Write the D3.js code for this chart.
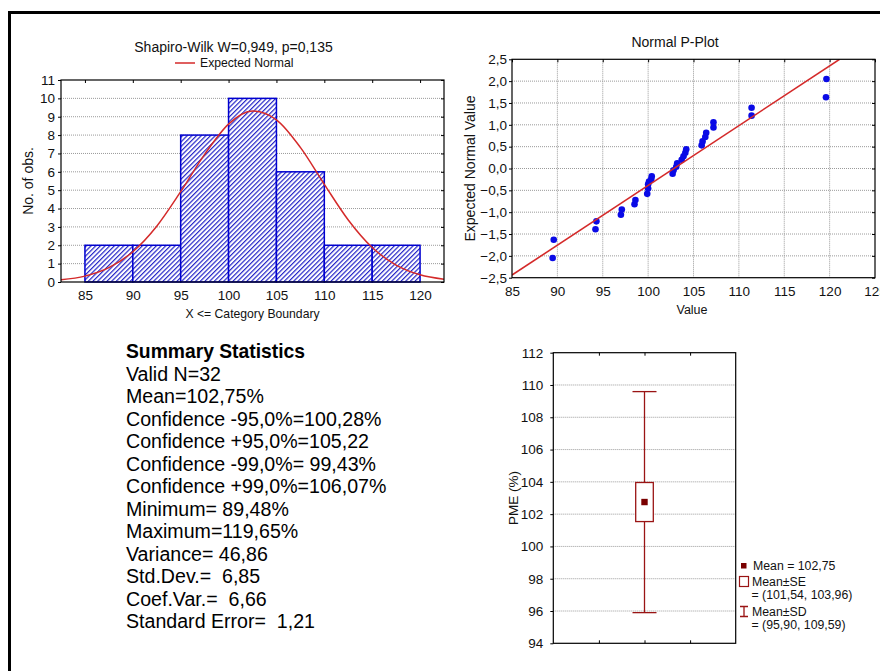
<!DOCTYPE html>
<html><head><meta charset="utf-8">
<script src="https://cdn.jsdelivr.net/npm/d3@7"></script>
<style>
body{margin:0;background:#fff;}
svg{display:block;font-family:"Liberation Sans",Arial,sans-serif;}
.grid line{stroke:#9a9a9a;stroke-width:1;stroke-dasharray:1,1;}
.ax path,.ax line{stroke:#000;}
.ax text{font-size:13.5px;fill:#111;}
</style></head><body>
<script>
// ---------- data ----------
const binStarts = [85, 90, 95, 100, 105, 110, 115];
const binWidth = 5;
const binCounts = [2, 2, 8, 10, 6, 2, 2];
// expected-normal curve
const curveX = [82.5, 85, 87.5, 90, 92.5, 95, 97.5, 100, 102.5, 105, 107.5, 110, 112.5, 115, 117.5, 120, 122.5];
const curveY = [0.12, 0.32, 0.78, 1.65, 3.04, 4.92, 6.95, 8.6, 9.31, 8.83, 7.33, 5.32, 3.38, 1.88, 0.92, 0.39, 0.15];
const histYTicks = [0,1,2,3,4,5,6,7,8,9,10,11];
const histXTicks = [85,90,95,100,105,110,115,120];

// normal P-plot
const obsValues = [89.48, 89.6, 94.2, 94.3, 97.0, 97.1, 98.5, 98.6, 99.9, 100.0, 100.0, 100.1, 100.35, 100.4,
  102.7, 102.8, 103.1, 103.2, 103.7, 103.9, 104.1, 104.2, 105.9, 106.0, 106.3, 106.4, 107.2, 107.2, 111.4, 111.4, 119.6, 119.65];
const expNormal = [-2.05, -1.63, -1.39, -1.21, -1.06, -0.94, -0.82, -0.72, -0.58, -0.46, -0.36, -0.3, -0.24, -0.18,
  -0.12, -0.04, 0.04, 0.12, 0.2, 0.28, 0.36, 0.44, 0.53, 0.62, 0.72, 0.82, 0.94, 1.06, 1.21, 1.39, 1.63, 2.05];
const fitLineX = [85, 121.1];
const fitLineZ = [-2.44, 2.5];
const ppXTicks = [85,90,95,100,105,110,115,120,125];
const ppYTicks = [-2.5,-2,-1.5,-1,-0.5,0,0.5,1,1.5,2,2.5];

// box plot
const boxMean = 102.75;
const boxSE = [101.54, 103.96];
const boxSD = [95.90, 109.59];
const boxYTicks = [94,96,98,100,102,104,106,108,110,112];

// summary
const summaryTitle = "Summary Statistics";
const summaryLines = ["Valid N=32","Mean=102,75%","Confidence -95,0%=100,28%","Confidence +95,0%=105,22",
  "Confidence -99,0%= 99,43%","Confidence +99,0%=106,07%","Minimum= 89,48%","Maximum=119,65%",
  "Variance= 46,86","Std.Dev.=  6,85","Coef.Var.=  6,66","Standard Error=  1,21"];
const legendLines = ["Mean = 102,75","Mean±SE","= (101,54, 103,96)","Mean±SD","= (95,90, 109,59)"];

const fmt1 = d => d3.format(".1f")(d).replace(".", ",");

const W = 880, H = 671;
const svg = d3.select("body").append("svg").attr("width", W).attr("height", H);
svg.append("rect").attr("width", W).attr("height", H).attr("fill", "#fff");
// outer frame (extends beyond right and bottom)
svg.append("path").attr("d", "M9.5,671V12.5H880").attr("fill","none").attr("stroke","#000").attr("stroke-width",3);

const defs = svg.append("defs");
const pat = defs.append("pattern").attr("id","hatch").attr("patternUnits","userSpaceOnUse")
  .attr("width",3.3).attr("height",3.3).attr("patternTransform","rotate(45)");
pat.append("rect").attr("width",3.3).attr("height",3.3).attr("fill","#fff");
pat.append("line").attr("x1",0.6).attr("y1",0).attr("x2",0.6).attr("y2",3.3).attr("stroke","#2626c8").attr("stroke-width",1.2);

// ================= Histogram =================
{
  const L = 61, R = 444, T = 80, B = 282;
  const x = d3.scaleLinear().domain([82.5, 122.5]).range([L, R]);
  const y = d3.scaleLinear().domain([0, 11]).range([B, T]);
  const g = svg.append("g");
  g.append("g").attr("class","grid").selectAll("line").data(histYTicks.filter(d=>d>0&&d<11)).join("line")
    .attr("x1",L).attr("x2",R).attr("y1",d=>y(d)).attr("y2",d=>y(d));
  g.selectAll("rect.bar").data(binStarts).join("rect").attr("class","bar")
    .attr("x",d=>x(d)).attr("width",d=>x(d+binWidth)-x(d))
    .attr("y",(d,i)=>y(binCounts[i])).attr("height",(d,i)=>y(0)-y(binCounts[i]))
    .attr("fill","url(#hatch)").attr("stroke","#0000d0").attr("stroke-width",1.5);
  defs.append("clipPath").attr("id","hclip").append("rect").attr("x",L).attr("y",T).attr("width",R-L).attr("height",B-T);
  g.append("path").datum(curveX.map((d,i)=>[d,curveY[i]])).attr("clip-path","url(#hclip)")
    .attr("d", d3.line().x(d=>x(d[0])).y(d=>y(d[1])).curve(d3.curveMonotoneX))
    .attr("fill","none").attr("stroke","#d42a2a").attr("stroke-width",1.5);
  g.append("rect").attr("x",L).attr("y",T).attr("width",R-L).attr("height",B-T).attr("fill","none").attr("stroke","#000").attr("stroke-width",1.2);
  g.append("g").attr("class","ax").attr("transform",`translate(${L},0)`)
    .call(d3.axisLeft(y).tickValues(histYTicks).tickSize(3).tickPadding(3)).call(s=>s.select(".domain").remove());
  g.append("g").attr("class","ax").attr("transform",`translate(0,${B})`)
    .call(d3.axisBottom(x).tickValues(histXTicks).tickSize(0).tickPadding(8.2)).call(s=>s.select(".domain").remove());
  g.append("g").attr("class","ax").attr("transform",`translate(0,${T})`)
    .call(d3.axisTop(x).tickValues(histXTicks).tickSize(-3).tickFormat("")).call(s=>s.select(".domain").remove());
  g.append("g").attr("class","ax").attr("transform",`translate(${R},0)`)
    .call(d3.axisRight(y).tickValues(histYTicks).tickSize(-3).tickFormat("")).call(s=>s.select(".domain").remove());
  g.append("text").attr("x",233.5).attr("y",51.5).attr("text-anchor","middle").attr("font-size",14).attr("fill","#111")
    .text("Shapiro-Wilk W=0,949, p=0,135");
  g.append("line").attr("x1",175).attr("x2",195).attr("y1",63).attr("y2",63).attr("stroke","#d42a2a").attr("stroke-width",1.5);
  g.append("text").attr("x",200).attr("y",67.3).attr("font-size",12.2).attr("fill","#111").text("Expected Normal");
  g.append("text").attr("x",252.5).attr("y",318.3).attr("text-anchor","middle").attr("font-size",12.2).attr("fill","#111")
    .text("X <= Category Boundary");
  g.append("text").attr("transform",`translate(33,181) rotate(-90)`).attr("text-anchor","middle").attr("font-size",14).attr("fill","#111")
    .text("No. of obs.");
}

// ================= Normal P-Plot =================
{
  const L = 512, R = 875, T = 59.3, B = 277.7;
  const x = d3.scaleLinear().domain([85, 125]).range([L, R]);
  const y = d3.scaleLinear().domain([-2.5, 2.5]).range([B, T]);
  const g = svg.append("g");
  const gr = g.append("g").attr("class","grid");
  gr.selectAll("line.h").data(ppYTicks.slice(1,-1)).join("line").attr("class","h")
    .attr("x1",L).attr("x2",R).attr("y1",d=>y(d)).attr("y2",d=>y(d));
  gr.selectAll("line.v").data(ppXTicks.slice(1,-1)).join("line").attr("class","v")
    .attr("y1",T).attr("y2",B).attr("x1",d=>x(d)).attr("x2",d=>x(d));
  defs.append("clipPath").attr("id","pclip").append("rect").attr("x",L).attr("y",T).attr("width",R-L).attr("height",B-T);
  g.selectAll("circle").data(obsValues).join("circle")
    .attr("cx",d=>x(d)).attr("cy",(d,i)=>y(expNormal[i])).attr("r",3.3).attr("fill","#0a0ae6");
  g.append("line").attr("clip-path","url(#pclip)")
    .attr("x1",x(fitLineX[0])).attr("y1",y(fitLineZ[0])).attr("x2",x(fitLineX[1])).attr("y2",y(fitLineZ[1]))
    .attr("stroke","#d42a2a").attr("stroke-width",1.6);
  g.append("rect").attr("x",L).attr("y",T).attr("width",R-L).attr("height",B-T).attr("fill","none").attr("stroke","#000").attr("stroke-width",1.2);
  g.append("g").attr("class","ax").attr("transform",`translate(${L},0)`)
    .call(d3.axisLeft(y).tickValues(ppYTicks).tickSize(3).tickPadding(2).tickFormat(fmt1)).call(s=>s.select(".domain").remove());
  g.append("g").attr("class","ax").attr("transform",`translate(0,${B})`)
    .call(d3.axisBottom(x).tickValues(ppXTicks).tickSize(0).tickPadding(8.4)).call(s=>s.select(".domain").remove());
  g.append("g").attr("class","ax").attr("transform",`translate(0,${T})`)
    .call(d3.axisTop(x).tickValues(ppXTicks).tickSize(-3).tickFormat("")).call(s=>s.select(".domain").remove());
  g.append("g").attr("class","ax").attr("transform",`translate(${R},0)`)
    .call(d3.axisRight(y).tickValues(ppYTicks).tickSize(-3).tickFormat("")).call(s=>s.select(".domain").remove());
  g.append("text").attr("x",675).attr("y",46.5).attr("text-anchor","middle").attr("font-size",14).attr("fill","#111").text("Normal P-Plot");
  g.append("text").attr("x",692).attr("y",313.5).attr("text-anchor","middle").attr("font-size",12.5).attr("fill","#111").text("Value");
  g.append("text").attr("transform",`translate(475,168.5) rotate(-90)`).attr("text-anchor","middle").attr("font-size",14).attr("fill","#111")
    .text("Expected Normal Value");
}

// ================= Summary text =================
{
  const g = svg.append("g").attr("fill","#000");
  g.append("text").attr("x",126).attr("y",358).attr("font-size",19.3).attr("font-weight","bold").text(summaryTitle);
  g.selectAll("text.s").data(summaryLines).join("text").attr("class","s")
    .attr("x",126).attr("y",(d,i)=>380.5+i*22.5).attr("font-size",19.6)
    .style("white-space","pre").text(d=>d);
}

// ================= Box plot =================
{
  const L = 553.3, R = 735.7, T = 352.7, B = 643.3;
  const y = d3.scaleLinear().domain([94, 112]).range([B, T]);
  const x = d3.scaleBand().domain(["PME"]).range([L, R]);
  const cx = x("PME") + x.bandwidth()/2;
  const red = "#9a1414";
  const g = svg.append("g");
  g.append("g").attr("class","grid").selectAll("line").data(boxYTicks.slice(1,-1)).join("line")
    .attr("x1",L).attr("x2",R).attr("y1",d=>y(d)).attr("y2",d=>y(d));
  g.append("line").attr("x1",cx).attr("x2",cx).attr("y1",y(boxSD[0])).attr("y2",y(boxSD[1])).attr("stroke",red).attr("stroke-width",1.3);
  [boxSD[0], boxSD[1]].forEach(v=>g.append("line").attr("x1",cx-12).attr("x2",cx+12).attr("y1",y(v)).attr("y2",y(v)).attr("stroke",red).attr("stroke-width",1.3));
  g.append("rect").attr("x",cx-8.8).attr("width",17.6).attr("y",y(boxSE[1])).attr("height",y(boxSE[0])-y(boxSE[1]))
    .attr("fill","#fff").attr("stroke",red).attr("stroke-width",1.3);
  g.append("rect").attr("x",cx-3.2).attr("y",y(boxMean)-3.2).attr("width",6.4).attr("height",6.4).attr("fill","#7a0000");
  g.append("rect").attr("x",L).attr("y",T).attr("width",R-L).attr("height",B-T).attr("fill","none").attr("stroke","#000").attr("stroke-width",1.2);
  const qx = d3.scaleLinear().domain([0,4]).range([L,R]);
  g.append("g").attr("class","ax").attr("transform",`translate(0,${T})`)
    .call(d3.axisTop(qx).tickValues([1,2,3]).tickSize(-3).tickFormat("")).call(s=>s.select(".domain").remove());
  g.append("g").attr("class","ax").attr("transform",`translate(0,${B})`)
    .call(d3.axisBottom(qx).tickValues([1,2,3]).tickSize(-3).tickFormat("")).call(s=>s.select(".domain").remove());
  g.append("g").attr("class","ax").attr("transform",`translate(${L},0)`)
    .call(d3.axisLeft(y).tickValues(boxYTicks).tickSize(3).tickPadding(7)).call(s=>s.select(".domain").remove())
    .call(s=>s.selectAll("text").attr("font-size",13.8));
  g.append("text").attr("transform",`translate(518,498) rotate(-90)`).attr("text-anchor","middle").attr("font-size",13.5).attr("fill","#111").text("PME (%)");
  // legend
  const lg = g.append("g").attr("font-size",12.3).attr("fill","#111");
  lg.append("rect").attr("x",741).attr("y",563).attr("width",5.5).attr("height",5.5).attr("fill","#7a0000");
  lg.append("text").attr("x",753).attr("y",570.3).text(legendLines[0]);
  lg.append("rect").attr("x",739.5).attr("y",576.5).attr("width",9).attr("height",10).attr("fill","#fff").attr("stroke",red).attr("stroke-width",1.2);
  lg.append("text").attr("x",752).attr("y",586).text(legendLines[1]);
  lg.append("text").attr("x",751.5).attr("y",599.3).text(legendLines[2]);
  lg.append("path").attr("d","M740,606.5H748M744,606.5V616.5M740,616.5H748").attr("fill","none").attr("stroke",red).attr("stroke-width",1.3);
  lg.append("text").attr("x",752).attr("y",615.8).text(legendLines[3]);
  lg.append("text").attr("x",751.5).attr("y",628.5).text(legendLines[4]);
}
</script>
</body></html>
